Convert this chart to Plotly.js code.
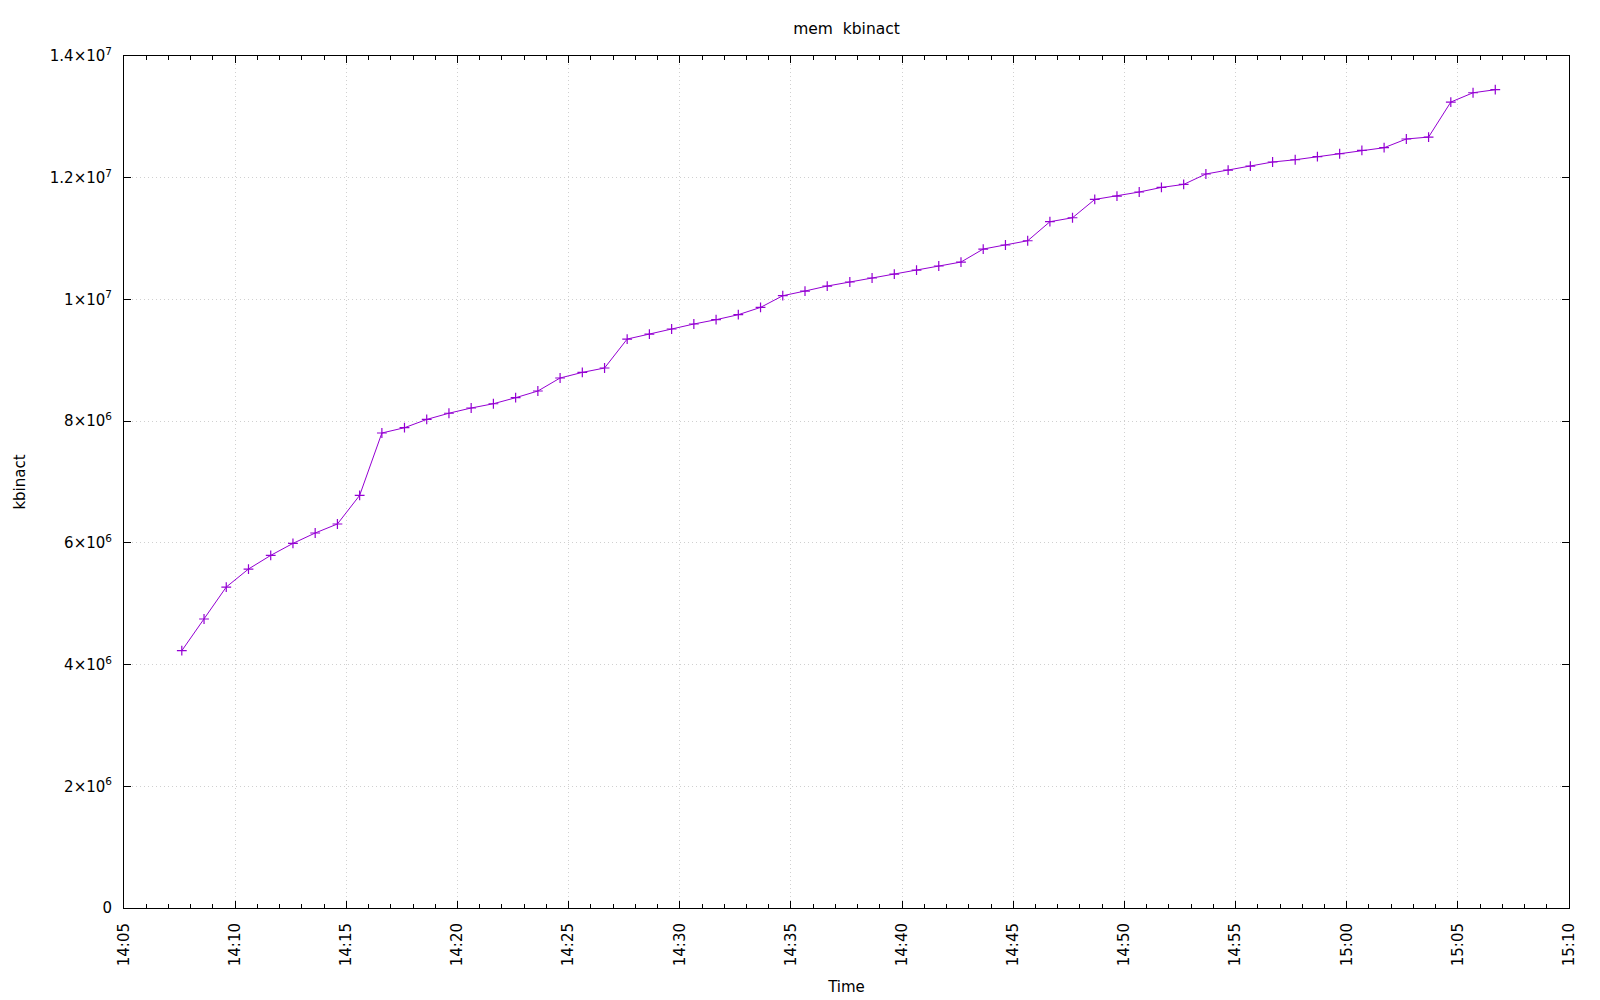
<!DOCTYPE html>
<html>
<head>
<meta charset="utf-8">
<script src="https://cdn.plot.ly/plotly-3.0.1.min.js"></script>
<style>html,body{margin:0;padding:0;background:#fff;}#chart{width:1600px;height:1000px;}</style>
</head>
<body>
<div id="chart"></div>
<script>
const day = "2024-01-01 ";
const times = [
"14:07:36","14:08:36","14:09:36","14:10:36","14:11:36","14:12:36","14:13:36","14:14:36","14:15:36","14:16:36",
"14:17:37","14:18:37","14:19:37","14:20:37","14:21:37","14:22:37","14:23:37","14:24:37","14:25:37","14:26:37",
"14:27:38","14:28:38","14:29:38","14:30:38","14:31:38","14:32:38","14:33:38","14:34:38","14:35:38","14:36:38",
"14:37:39","14:38:39","14:39:39","14:40:39","14:41:39","14:42:39","14:43:39","14:44:39","14:45:39","14:46:39",
"14:47:40","14:48:40","14:49:40","14:50:40","14:51:40","14:52:40","14:53:40","14:54:40","14:55:40","14:56:40",
"14:57:41","14:58:41","14:59:41","15:00:41","15:01:41","15:02:41","15:03:41","15:04:41","15:05:41","15:06:41"
];
const kbinact = [
4228000,4749000,5274000,5570000,5794000,5991000,6162000,6310000,6780000,7805000,
7892000,8028000,8130000,8216000,8286000,8385000,8495000,8709000,8801000,8873000,
9349000,9431000,9514000,9596000,9667000,9749000,9869000,10061000,10138000,10220000,
10286000,10352000,10417000,10483000,10549000,10614000,10828000,10894000,10964000,11277000,
11342000,11643000,11699000,11765000,11840000,11890000,12061000,12126000,12192000,12258000,
12295000,12345000,12394000,12448000,12493000,12636000,12668000,13243000,13396000,13446000
];
const yTickVals = [0,2e6,4e6,6e6,8e6,1e7,1.2e7,1.4e7];
const yTickText = ["0","2×10<sup>6</sup>","4×10<sup>6</sup>","6×10<sup>6</sup>","8×10<sup>6</sup>","1×10<sup>7</sup>","1.2×10<sup>7</sup>","1.4×10<sup>7</sup>"];
const xRange = ["14:05:00","15:10:00"];

const font = {family: "DejaVu Sans, sans-serif", size: 15, color: "#000"};

const trace = {
  x: times.map(t => day + t),
  y: kbinact,
  type: "scatter",
  mode: "lines+markers",
  line: {color: "#9400d3", width: 1},
  marker: {symbol: "cross-thin-open", size: 7, line: {color: "#9400d3", width: 1.2}, color: "#9400d3"},
  showlegend: false
};

const layout = {
  width: 1600, height: 1000,
  margin: {l: 124, r: 31, t: 56, b: 92, pad: 0},
  paper_bgcolor: "#fff", plot_bgcolor: "#fff",
  font: font,
  title: {text: "mem\u00a0 kbinact", font: {family: font.family, size: 15.5, color: "#000"}, x: 0.5, xanchor: "center", y: 1 - 29/1000, yanchor: "middle", xref: "paper"},
  xaxis: {
    type: "date",
    range: xRange.map(t => day + t),
    tick0: day + "14:05:00",
    dtick: 300000,
    tickformat: "%H:%M",
    tickangle: -90,
    ticks: "inside", ticklen: 7, tickwidth: 1, tickcolor: "#000",
    showline: true, linecolor: "#000", linewidth: 1, mirror: "allticks",
    showgrid: true, gridcolor: "#d0d0d0", griddash: "1px,3px", gridwidth: 1,
    zeroline: false,
    minor: {dtick: 60000, tick0: day + "14:05:00", ticks: "inside", ticklen: 4, tickcolor: "#000", tickwidth: 1, showgrid: false},
    ticklabelstandoff: 8,
    tickfont: font,
    title: {text: "Time", font: font, standoff: 16}
  },
  yaxis: {
    range: [0, 1.4e7],
    tickmode: "array", tickvals: yTickVals, ticktext: yTickText,
    ticks: "inside", ticklen: 7, tickwidth: 1, tickcolor: "#000",
    showline: true, linecolor: "#000", linewidth: 1, mirror: "allticks",
    showgrid: true, gridcolor: "#d0d0d0", griddash: "1px,3px", gridwidth: 1,
    zeroline: false,
    ticklabelstandoff: 8,
    tickfont: font,
    title: {text: "kbinact", font: font, standoff: 20}
  }
};

Plotly.newPlot("chart", [trace], layout, {displayModeBar: false, staticPlot: true});
</script>
</body>
</html>
